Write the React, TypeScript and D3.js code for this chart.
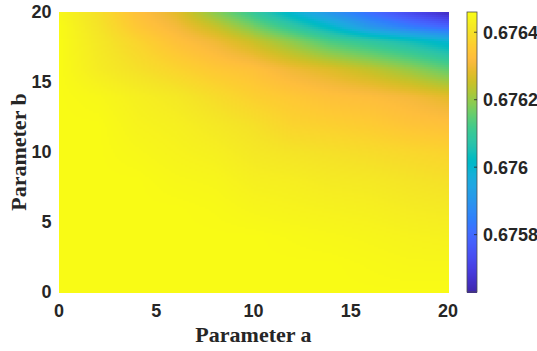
import React, { useEffect, useRef } from 'react';
import * as d3 from 'd3';

// grid of the response surface
const paramA = [0, 2, 4, 6, 8, 10, 12, 14, 16, 18, 20];
const paramB = [0, 2, 4, 6, 8, 10, 12, 14, 16, 18, 19, 20];

// rows follow paramB, columns follow paramA
const response = [
  [0.676460, 0.676460, 0.676460, 0.676460, 0.676460, 0.676460, 0.676460, 0.676460, 0.676460, 0.676460, 0.676460],
  [0.676460, 0.676460, 0.676460, 0.676460, 0.676460, 0.676460, 0.676460, 0.676460, 0.676456, 0.676452, 0.676452],
  [0.676460, 0.676460, 0.676460, 0.676460, 0.676460, 0.676460, 0.676456, 0.676452, 0.676448, 0.676443, 0.676439],
  [0.676460, 0.676460, 0.676460, 0.676460, 0.676456, 0.676448, 0.676443, 0.676439, 0.676435, 0.676427, 0.676423],
  [0.676460, 0.676460, 0.676460, 0.676452, 0.676448, 0.676435, 0.676431, 0.676423, 0.676419, 0.676410, 0.676402],
  [0.676460, 0.676460, 0.676452, 0.676443, 0.676435, 0.676419, 0.676410, 0.676402, 0.676394, 0.676385, 0.676377],
  [0.676460, 0.676460, 0.676443, 0.676435, 0.676419, 0.676402, 0.676377, 0.676369, 0.676360, 0.676344, 0.676336],
  [0.676460, 0.676452, 0.676435, 0.676419, 0.676394, 0.676369, 0.676352, 0.676336, 0.676327, 0.676311, 0.676286],
  [0.676460, 0.676427, 0.676402, 0.676377, 0.676352, 0.676336, 0.676302, 0.676277, 0.676244, 0.676203, 0.676153],
  [0.676460, 0.676419, 0.676377, 0.676336, 0.676302, 0.676253, 0.676194, 0.676128, 0.676087, 0.676045, 0.675995],
  [0.676460, 0.676410, 0.676352, 0.676311, 0.676253, 0.676178, 0.676095, 0.676012, 0.675912, 0.675846, 0.675796],
  [0.676452, 0.676402, 0.676336, 0.676286, 0.676194, 0.676103, 0.676004, 0.675904, 0.675813, 0.675730, 0.675655],
];

const xTicks = [0, 5, 10, 15, 20];
const yTicks = [0, 5, 10, 15, 20];
const colorTicks = [0.6758, 0.676, 0.6762, 0.6764];
const colorLimits: [number, number] = [0.67563, 0.67646];

// MATLAB parula, 64 entries
const PARULA = [
  [0.2422, 0.1504, 0.6603], [0.2504, 0.165, 0.7076], [0.2578, 0.1818, 0.7511], [0.2647, 0.1978, 0.7952],
  [0.2706, 0.2147, 0.8364], [0.2751, 0.2342, 0.871], [0.2783, 0.2559, 0.8991], [0.2803, 0.2782, 0.9221],
  [0.2813, 0.3006, 0.9414], [0.281, 0.3228, 0.9579], [0.2795, 0.3447, 0.9717], [0.276, 0.3667, 0.9829],
  [0.2699, 0.3892, 0.9906], [0.2602, 0.4123, 0.9952], [0.244, 0.4358, 0.9988], [0.2206, 0.4603, 0.9973],
  [0.1963, 0.4847, 0.9892], [0.1834, 0.5074, 0.9798], [0.1786, 0.5289, 0.9682], [0.1764, 0.5499, 0.952],
  [0.1687, 0.5703, 0.9359], [0.154, 0.5902, 0.9218], [0.146, 0.6091, 0.9079], [0.138, 0.6276, 0.8973],
  [0.1248, 0.6459, 0.8883], [0.1113, 0.6635, 0.8763], [0.0952, 0.6798, 0.8598], [0.0689, 0.6948, 0.8394],
  [0.0297, 0.7082, 0.8163], [0.0036, 0.7203, 0.7917], [0.0067, 0.7312, 0.766], [0.0433, 0.7411, 0.7394],
  [0.0964, 0.75, 0.712], [0.1408, 0.7584, 0.6842], [0.1717, 0.767, 0.6554], [0.1938, 0.7758, 0.6251],
  [0.2161, 0.7843, 0.5923], [0.247, 0.7918, 0.5567], [0.2906, 0.7973, 0.5188], [0.3406, 0.8008, 0.4789],
  [0.3909, 0.8029, 0.4354], [0.4456, 0.8024, 0.3909], [0.5044, 0.7993, 0.348], [0.5616, 0.7942, 0.3045],
  [0.6174, 0.7876, 0.2612], [0.672, 0.7793, 0.2227], [0.7242, 0.7698, 0.191], [0.7738, 0.7598, 0.1646],
  [0.8203, 0.7498, 0.1535], [0.8634, 0.7406, 0.1596], [0.9035, 0.733, 0.1774], [0.9393, 0.7288, 0.21],
  [0.9728, 0.7298, 0.2394], [0.9956, 0.7434, 0.2371], [0.997, 0.7659, 0.2199], [0.9952, 0.7893, 0.2028],
  [0.9892, 0.8136, 0.1885], [0.9786, 0.8386, 0.1766], [0.9676, 0.8639, 0.1643], [0.961, 0.889, 0.1537],
  [0.9597, 0.9135, 0.1423], [0.9628, 0.9373, 0.1265], [0.9691, 0.9606, 0.1064], [0.9769, 0.9839, 0.0805],
];

const W = 537;
const H = 351;
const plot = { left: 59, right: 448, top: 12, bottom: 292 };
const bar = { left: 467, right: 477 };
const TICK_FONT = '"Liberation Sans", Arial, Helvetica, sans-serif';
const LABEL_FONT = '"Liberation Serif", "Times New Roman", serif';
const TEXT = '#262626';

// bilinear lookup on the grid (what MATLAB's shading interp does)
function sample(a: number, b: number) {
  const i = Math.min(paramA.length - 2, Math.max(0, d3.bisectRight(paramA, a) - 1));
  const j = Math.min(paramB.length - 2, Math.max(0, d3.bisectRight(paramB, b) - 1));
  const ta = (a - paramA[i]) / (paramA[i + 1] - paramA[i]);
  const tb = (b - paramB[j]) / (paramB[j + 1] - paramB[j]);
  const v00 = response[j][i], v10 = response[j][i + 1];
  const v01 = response[j + 1][i], v11 = response[j + 1][i + 1];
  return (v00 * (1 - ta) + v10 * ta) * (1 - tb) + (v01 * (1 - ta) + v11 * ta) * tb;
}

export default function App() {
  const svgRef = useRef<SVGSVGElement>(null);

  useEffect(() => {
    if (!svgRef.current) return;
    const svg = d3.select(svgRef.current);
    svg.selectAll('*').remove();

    const x = d3.scaleLinear().domain([0, 20]).range([plot.left, plot.right]);
    const y = d3.scaleLinear().domain([0, 20]).range([plot.bottom, plot.top]);

    const parula = d3.scaleLinear<string>()
      .domain(PARULA.map((_, i) => i / (PARULA.length - 1)))
      .range(PARULA.map(c => d3.rgb(c[0] * 255, c[1] * 255, c[2] * 255).toString()))
      .interpolate(d3.interpolateRgb)
      .clamp(true);
    const norm = d3.scaleLinear().domain(colorLimits).range([0, 1]).clamp(true);
    const color = (v: number) => parula(norm(v));

    // surface
    const nx = 195, ny = 140;
    const da = 20 / nx, db = 20 / ny;
    const cells: { a: number; b: number; v: number }[] = [];
    for (let i = 0; i < nx; i++) {
      for (let j = 0; j < ny; j++) {
        const a = i * da, b = j * db;
        cells.push({ a, b, v: sample(a + da / 2, b + db / 2) });
      }
    }
    svg.append('g')
      .attr('shape-rendering', 'crispEdges')
      .selectAll('rect')
      .data(cells)
      .enter()
      .append('rect')
      .attr('x', d => x(d.a))
      .attr('y', d => y(d.b + db))
      .attr('width', x(da) - x(0) + 0.6)
      .attr('height', y(0) - y(db) + 0.6)
      .attr('fill', d => color(d.v));

    // axis tick labels
    svg.append('g')
      .selectAll('text')
      .data(xTicks)
      .enter()
      .append('text')
      .attr('x', d => x(d))
      .attr('y', 317)
      .attr('text-anchor', 'middle')
      .attr('font-family', TICK_FONT)
      .attr('font-weight', 'bold')
      .attr('font-size', 18)
      .attr('fill', TEXT)
      .text(d => String(d));

    svg.append('g')
      .selectAll('text')
      .data(yTicks)
      .enter()
      .append('text')
      .attr('x', 51.5)
      .attr('y', d => y(d))
      .attr('dy', '0.36em')
      .attr('text-anchor', 'end')
      .attr('font-family', TICK_FONT)
      .attr('font-weight', 'bold')
      .attr('font-size', 18)
      .attr('fill', TEXT)
      .text(d => String(d));

    // axis labels
    svg.append('text')
      .attr('x', (plot.left + plot.right) / 2)
      .attr('y', 342)
      .attr('text-anchor', 'middle')
      .attr('font-family', LABEL_FONT)
      .attr('font-weight', 'bold')
      .attr('font-size', 22)
      .attr('fill', TEXT)
      .text('Parameter a');

    svg.append('text')
      .attr('transform', `translate(26,${(plot.top + plot.bottom) / 2}) rotate(-90)`)
      .attr('text-anchor', 'middle')
      .attr('font-family', LABEL_FONT)
      .attr('font-weight', 'bold')
      .attr('font-size', 22)
      .attr('fill', TEXT)
      .text('Parameter b');

    // colorbar
    const yc = d3.scaleLinear().domain(colorLimits).range([plot.bottom, plot.top]);
    const dv = (colorLimits[1] - colorLimits[0]) / 280;
    const steps = d3.range(0, 280).map(k => colorLimits[0] + k * dv);
    svg.append('g')
      .attr('shape-rendering', 'crispEdges')
      .selectAll('rect')
      .data(steps)
      .enter()
      .append('rect')
      .attr('x', bar.left)
      .attr('width', bar.right - bar.left)
      .attr('y', d => yc(d + dv))
      .attr('height', yc(colorLimits[0]) - yc(colorLimits[0] + dv) + 0.6)
      .attr('fill', d => color(d + dv / 2));

    svg.append('rect')
      .attr('x', bar.left)
      .attr('y', plot.top)
      .attr('width', bar.right - bar.left)
      .attr('height', plot.bottom - plot.top)
      .attr('fill', 'none')
      .attr('stroke', '#4d4d4d')
      .attr('stroke-width', 0.8);

    svg.append('g')
      .selectAll('line')
      .data(colorTicks)
      .enter()
      .append('line')
      .attr('x1', bar.right - 3)
      .attr('x2', bar.right)
      .attr('y1', d => yc(d))
      .attr('y2', d => yc(d))
      .attr('stroke', '#262626')
      .attr('stroke-width', 0.8);

    svg.append('g')
      .selectAll('text')
      .data(colorTicks)
      .enter()
      .append('text')
      .attr('x', 483)
      .attr('y', d => yc(d))
      .attr('dy', '0.36em')
      .attr('font-family', TICK_FONT)
      .attr('font-weight', 'bold')
      .attr('font-size', 18)
      .attr('fill', TEXT)
      .text(d => String(d));
  }, []);

  return (
    <svg
      ref={svgRef}
      width={W}
      height={H}
      style={{ position: 'absolute', left: 0, top: 0, background: '#fff' }}
    />
  );
}
